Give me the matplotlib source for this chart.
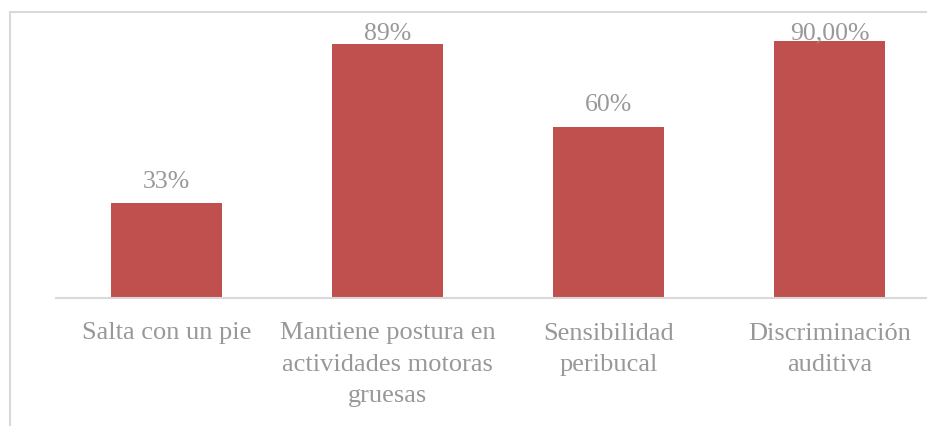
import matplotlib.pyplot as plt
from matplotlib.lines import Line2D

plt.rcParams['font.family'] = 'serif'
plt.rcParams['font.serif'] = ['Liberation Serif', 'DejaVu Serif']

# Data
categories = ['Salta con un pie', 'Mantiene postura en\nactividades motoras\ngruesas',
              'Sensibilidad\nperibucal', 'Discriminación\nauditiva']
values = [0.33, 0.89, 0.60, 0.90]
value_labels = ['33%', '89%', '60%', '90,00%']

bar_color = '#C0504D'
text_color = '#989898'
line_color = '#D9D9D9'

W, H = 927, 426
fig = plt.figure(figsize=(W / 100, H / 100), dpi=100)

# plot area (pixel coords: x 56..940, y 12.5..297.5)
left, right, top, bottom = 56, 940, 12.5, 297.5
ax = fig.add_axes([left / W, 1 - bottom / H, (right - left) / W, (bottom - top) / H])

x = range(len(categories))
ax.bar(x, values, width=0.5, color=bar_color)
ax.set_xlim(-0.5, len(categories) - 0.5)
ax.set_ylim(0, 1)

for xi, v, lab in zip(x, values, value_labels):
    ax.text(xi, min(v + 0.053, 0.905), lab, ha='center', va='baseline',
            fontsize=18.5, color=text_color)

ax.set_xticks(list(x))
ax.set_xticklabels(categories, fontsize=19, color=text_color, linespacing=1.53)
ax.tick_params(axis='x', length=0, pad=18)
ax.set_yticks([])
for s in ['top', 'right', 'left']:
    ax.spines[s].set_visible(False)
ax.spines['bottom'].set_color(line_color)
ax.spines['bottom'].set_linewidth(1.5)

# chart frame (partially cropped)
fig.add_artist(Line2D([10 / W, 1], [1 - 12 / H, 1 - 12 / H], color=line_color, lw=1.5))
fig.add_artist(Line2D([10 / W, 10 / W], [0, 1 - 12 / H], color=line_color, lw=1.5))

fig.savefig('out.png', dpi=100)
